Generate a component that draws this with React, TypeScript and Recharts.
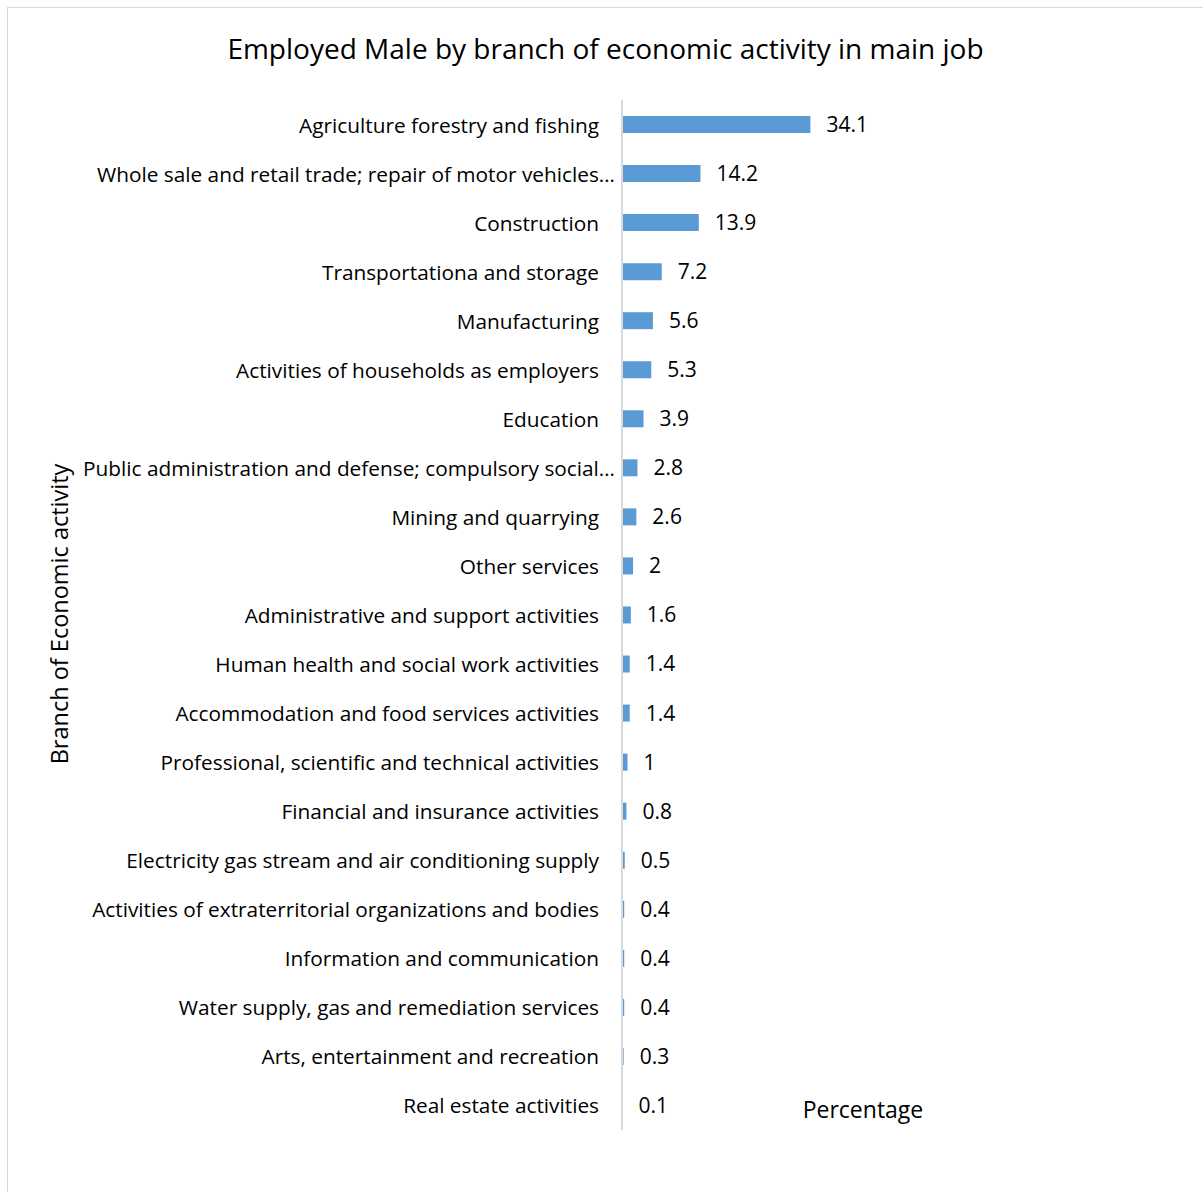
import React from 'react';
import { BarChart, Bar, XAxis, YAxis, LabelList } from 'recharts';

const categories = [
  'Agriculture forestry and fishing',
  'Whole sale and retail trade; repair of motor vehicles…',
  'Construction',
  'Transportationa and storage',
  'Manufacturing',
  'Activities of households as employers',
  'Education',
  'Public administration and defense; compulsory social…',
  'Mining and quarrying',
  'Other services',
  'Administrative and support activities',
  'Human health and social work activities',
  'Accommodation and food services activities',
  'Professional, scientific and technical activities',
  'Financial and insurance activities',
  'Electricity gas stream and air conditioning supply',
  'Activities of extraterritorial organizations and bodies',
  'Information and communication',
  'Water supply, gas and remediation services',
  'Arts, entertainment and recreation',
  'Real estate activities',
];

const percentages = [34.1, 14.2, 13.9, 7.2, 5.6, 5.3, 3.9, 2.8, 2.6, 2, 1.6, 1.4, 1.4, 1, 0.8, 0.5, 0.4, 0.4, 0.4, 0.3, 0.1];

const title = 'Employed Male by branch of economic activity in main job';
const yTitle = 'Branch of Economic activity';
const xTitle = 'Percentage';

const data = categories.map((c, i) => ({ name: c, value: percentages[i] }));

const FONT = '"Open Sans", sans-serif';

const CatTick = (props: any) => {
  const { x, y, payload } = props;
  const txt: string = payload.value;
  const shift = txt.endsWith('…') ? 16 : 0;
  return (
    <text x={x + shift} y={y} textAnchor="end" dominantBaseline="central" fontSize={20.8} fontFamily={FONT} fill="#000">
      {txt}
    </text>
  );
};

export default function App() {
  return (
    <div
      style={{
        position: 'absolute',
        left: 7,
        top: 7,
        width: 1196,
        height: 1185,
        boxSizing: 'border-box',
        borderTop: '1px solid #d9d9d9',
        borderLeft: '1px solid #d9d9d9',
        background: '#fff',
        fontFamily: FONT,
        overflow: 'hidden',
      }}
    >
      <div
        style={{
          position: 'absolute',
          left: 0,
          width: 1195,
          top: 23,
          textAlign: 'center',
          fontSize: 28,
          color: '#000',
          lineHeight: '34px',
          whiteSpace: 'nowrap',
        }}
      >
        {title}
      </div>
      <div
        style={{
          position: 'absolute',
          left: 51 - 200,
          top: 606 - 14,
          width: 400,
          height: 28,
          lineHeight: '28px',
          textAlign: 'center',
          fontSize: 23.5,
          transform: 'rotate(-90deg)',
          whiteSpace: 'nowrap',
        }}
      >
        {yTitle}
      </div>
      <div
        style={{
          position: 'absolute',
          left: 855 - 100,
          top: 1101 - 14,
          width: 200,
          height: 28,
          lineHeight: '28px',
          textAlign: 'center',
          fontSize: 23,
          whiteSpace: 'nowrap',
        }}
      >
        {xTitle}
      </div>
      <BarChart
        width={1195}
        height={1184}
        data={data}
        layout="vertical"
        margin={{ top: 92, right: 360, bottom: 62, left: 14 }}
        barCategoryGap={16}
      >
        <XAxis type="number" domain={[0, 40]} hide />
        <YAxis
          type="category"
          dataKey="name"
          width={600}
          axisLine={{ stroke: '#d9d9d9', strokeWidth: 2 }}
          tickLine={false}
          tickSize={0}
          tickMargin={23}
          interval={0}
          tick={<CatTick />}
        />
        <Bar dataKey="value" fill="#5b9bd5" barSize={17} isAnimationActive={false}>
          <LabelList
            dataKey="value"
            position="right"
            offset={16}
            fontSize={21}
            fontFamily={FONT}
            fill="#000"
          />
        </Bar>
      </BarChart>
    </div>
  );
}
